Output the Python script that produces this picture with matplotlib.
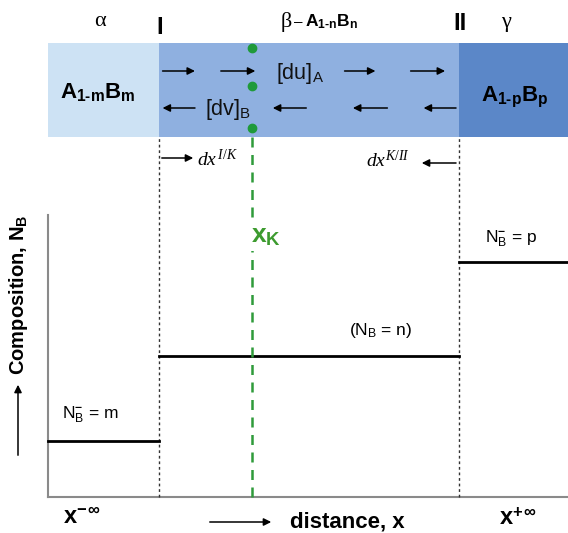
import matplotlib.pyplot as plt

plt.rcParams['mathtext.fontset'] = 'custom'
plt.rcParams['mathtext.rm'] = 'Liberation Sans:bold'
plt.rcParams['mathtext.bf'] = 'Liberation Sans:bold'
plt.rcParams['mathtext.sf'] = 'Liberation Sans'
plt.rcParams['mathtext.it'] = 'Liberation Serif:italic'
plt.rcParams['mathtext.tt'] = 'Liberation Serif'

# schematic data (distance 0..1, composition 0..1)
interfaces = [0.2135, 0.790]          # I, II
x_k = 0.392                           # Kirkendall marker plane
levels = [0.199, 0.5, 0.833]          # N_B = m, n, p
phase_names = ['α', 'β', 'γ']
phase_colors = ['#cde2f4', '#8fb0e0', '#5b87c8']
marker_y = [1.592, 1.457, 1.309]      # green markers inside the band
flux_A = [(0.215, 0.288), (0.327, 0.404), (0.565, 0.635), (0.692, 0.769)]
flux_B = [(0.288, 0.215), (0.502, 0.427), (0.658, 0.581), (0.790, 0.717)]
band = (1.277, 1.610)


def px(x):
    return (x - 48) / 520


def py(y):
    return (497 - y) / 282


fig = plt.figure(figsize=(5.68, 5.33), dpi=100)
ax = fig.add_axes([0, 0, 1, 1])
ax.set_xlim(px(0), px(568))
ax.set_ylim(py(533), py(0))
ax.axis('off')

# phase band
edges = [0] + interfaces + [1]
for i in range(3):
    ax.fill_between([edges[i], edges[i + 1]], band[0], band[1],
                    color=phase_colors[i], lw=0, zorder=1)

# axes
ax.plot([0, 0], [0, 1.0], color='#8a8a8a', lw=1.5, zorder=2)
ax.plot([0, 1], [0, 0], color='#8a8a8a', lw=1.5, zorder=2)

# interfaces
for xi in interfaces:
    ax.plot([xi, xi], [0, band[0]], color='#333333', lw=1, ls=(0, (2, 2)), zorder=2)

# composition profile
for i in range(3):
    ax.plot([edges[i], edges[i + 1]], [levels[i], levels[i]], color='black', lw=2, zorder=3)

# marker plane
ax.plot([x_k, x_k], [0, band[0]], color='#2f9b3a', lw=1.8, ls=(0, (4, 3)), zorder=3)
ax.plot([x_k] * len(marker_y), marker_y, 'o', color='#1f9a3a', ms=6, zorder=5)

# fluxes
arrow = dict(arrowstyle='-|>', color='black', lw=1.1, mutation_scale=11)
for x0, x1 in flux_A:
    ax.annotate('', xy=(x1, py(71)), xytext=(x0, py(71)), arrowprops=arrow, zorder=4)
for x0, x1 in flux_B:
    ax.annotate('', xy=(x1, py(108)), xytext=(x0, py(108)), arrowprops=arrow, zorder=4)
ax.annotate('', xy=(px(196), py(158)), xytext=(interfaces[0], py(158)), arrowprops=arrow)
ax.annotate('', xy=(px(419), py(163)), xytext=(interfaces[1], py(163)), arrowprops=arrow)
ax.annotate('', xy=(px(274), py(522)), xytext=(px(207), py(522)), arrowprops=arrow)
ax.annotate('', xy=(px(18), py(382)), xytext=(px(18), py(458)), arrowprops=arrow)

sans = 'Liberation Sans'
serif = 'Liberation Serif'

# top labels
ax.text(px(100), py(22), phase_names[0], family=serif, fontsize=16, ha='center', va='center')
ax.text(px(506), py(22), phase_names[2], family=serif, fontsize=16, ha='center', va='center')
ax.text(px(281), py(22), phase_names[1], family=serif, fontsize=16, ha='left', va='center')
ax.text(px(294), py(22), '–', family=sans, fontsize=11, ha='left', va='center')
ax.text(px(305), py(22), r'A$_{\mathrm{1\text{-}n}}$B$_{\mathrm{n}}$', family=sans, weight='bold',
        fontsize=12.5, ha='left', va='center')
ax.text(px(160), py(27), 'I', family=sans, weight='bold', fontsize=17, ha='center', va='center')
ax.text(px(460), py(23), 'II', family=sans, weight='bold', fontsize=17, ha='center', va='center')

# band labels
ax.text(px(98), py(92), r'A$_{\mathrm{1\text{-}m}}$B$_{\mathrm{m}}$', family=sans, weight='bold',
        fontsize=16, ha='center', va='center', zorder=6)
ax.text(px(515), py(97), r'A$_{\mathrm{1\text{-}p}}$B$_{\mathrm{p}}$', family=sans, weight='bold',
        fontsize=16, ha='center', va='center', zorder=6)
ax.text(px(300), py(73), r'[du]$_{\mathsf{A}}$', family=sans, fontsize=15.5,
        ha='center', va='center', zorder=6, color='#111111')
ax.text(px(228), py(109), r'[dv]$_{\mathsf{B}}$', family=sans, fontsize=15.5,
        ha='center', va='center', zorder=6, color='#111111')

ax.text(px(197), py(159), r'$dx^{\,I\mathtt{/}K}$', fontsize=14, ha='left', va='center')
ax.text(px(366), py(160), r'$dx^{K\mathtt{/}II}$', fontsize=14, ha='left', va='center')

ax.text(x_k + px(62) - px(48), py(236), r'x$_{\mathrm{K}}$', family=sans, weight='bold', fontsize=19,
        color='#3d9b2f', ha='center', va='center', zorder=6,
        bbox=dict(facecolor='white', edgecolor='none', pad=2))

# composition labels
ax.text(px(90), py(414), r'N$_{\mathsf{B}}^{-}$ = m', family=sans, fontsize=12.5, ha='center', va='center')
ax.text(px(381), py(330), r'(N$_{\mathsf{B}}$ = n)', family=sans, fontsize=12.5, ha='center', va='center')
ax.text(px(511), py(238), r'N$_{\mathsf{B}}^{-}$ = p', family=sans, fontsize=12.5, ha='center', va='center')

ax.text(px(18), py(295), r'Composition, N$_{\mathrm{B}}$', family=sans, weight='bold', fontsize=14.5,
        rotation=90, ha='center', va='center')

ax.text(px(82), py(518), r'x$^{-\,\infty}$', family=sans, weight='bold', fontsize=17, ha='center', va='center')
ax.text(px(518), py(518), r'x$^{+\,\infty}$', family=sans, weight='bold', fontsize=17, ha='center', va='center')
ax.text(px(347), py(522), 'distance, x', family=sans, weight='bold', fontsize=16, ha='center', va='center')

fig.savefig('out.png', dpi=100)
